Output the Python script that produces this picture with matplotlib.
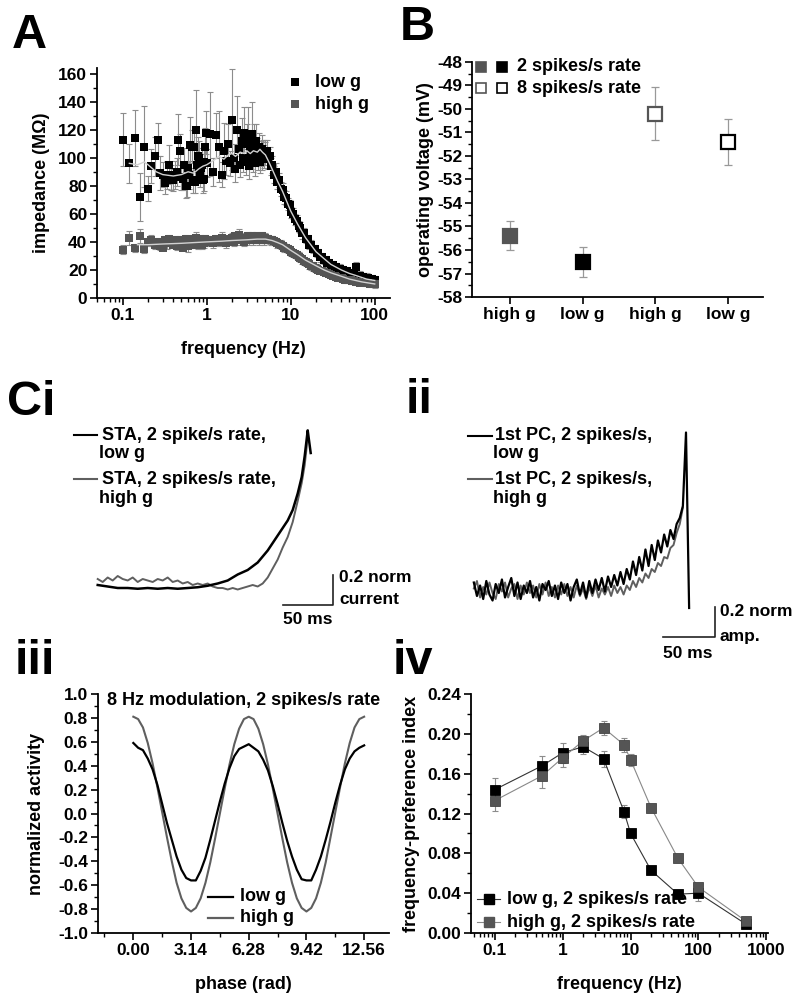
import numpy as np
import matplotlib
matplotlib.use('Agg')
import matplotlib.pyplot as plt
from matplotlib.ticker import (MultipleLocator, FixedLocator, NullFormatter,
                               LogLocator, FormatStrFormatter)

# ======================= DATA =======================
# ---- Panel A: impedance vs frequency ----
freq_lo = [0.10, 0.12, 0.14, 0.16, 0.18, 0.20, 0.22, 0.24, 0.26, 0.28,
           0.30, 0.32, 0.34, 0.36, 0.38, 0.40, 0.42, 0.44, 0.46, 0.48,
           0.50, 0.52, 0.54, 0.56, 0.58, 0.60, 0.62, 0.64, 0.66, 0.68,
           0.70, 0.72, 0.74, 0.76, 0.78, 0.80, 0.82, 0.84, 0.86, 0.88,
           0.90, 0.92, 0.94, 0.96, 0.98, 1.00]
freq_mid = [1.1, 1.2, 1.3, 1.4, 1.5, 1.6, 1.7, 1.8, 1.9, 2.0,
            2.1, 2.2, 2.3, 2.4, 2.5, 2.6, 2.7, 2.8, 2.9, 3.0,
            3.1, 3.2, 3.3, 3.4, 3.5, 3.6, 3.7, 3.8, 3.9, 4.0,
            4.1, 4.2, 4.3, 4.4, 4.5, 4.6, 4.7, 4.8, 4.9, 5.0]
freq_hi = [5.2, 5.4, 5.6, 5.8, 6.0, 6.3, 6.6, 6.9, 7.2, 7.6,
           8.0, 8.4, 8.8, 9.2, 9.7, 10.2, 10.7, 11.2, 11.8, 12.4,
           13.0, 13.7, 14.4, 15.1, 15.9, 16.7, 17.5, 18.4, 19.3, 20.3,
           21.3, 22.4, 23.5, 24.7, 26.0, 27.3, 28.7, 30.1, 31.6, 33.2,
           34.9, 36.6, 38.5, 40.4, 42.4, 44.6, 46.8, 49.1, 51.6, 54.2,
           56.9, 59.8, 62.8, 65.9, 69.2, 72.7, 76.3, 80.1, 84.1, 88.3,
           92.8, 97.4, 100.0]

low_lo = [113, 96, 114, 72, 108, 78, 94, 101, 113, 89,
          88, 82, 88, 95, 86, 84, 88, 90, 113, 105,
          86, 85, 95, 80, 80, 93, 88, 109, 108, 84,
          108, 83, 120, 95, 101, 92, 100, 88, 93, 95,
          84, 97, 85, 108, 118, 96]
low_lo_err = [19, 14, 20, 17, 29, 9, 12, 14, 12, 12,
              9, 8, 10, 14, 9, 8, 10, 10, 18, 12,
              9, 8, 12, 9, 8, 14, 10, 20, 12, 9,
              12, 8, 28, 12, 14, 10, 12, 9, 10, 12,
              9, 11, 9, 13, 15, 10]
low_mid = [117, 90, 116, 108, 88, 105, 98, 110, 96, 127,
           100, 92, 120, 106, 95, 112, 100, 118, 97, 110,
           114, 94, 108, 102, 117, 99, 110, 96, 112, 104,
           100, 108, 97, 103, 106, 99, 104, 101, 105, 103]
low_mid_err = [30, 10, 16, 25, 9, 20, 10, 14, 9, 36,
               10, 9, 24, 12, 9, 16, 10, 18, 9, 14,
               22, 9, 12, 10, 23, 9, 14, 9, 12, 10,
               9, 10, 8, 9, 10, 8, 9, 8, 8, 8]
low_hi = [105, 99, 101, 94, 95, 88, 90, 83, 84, 78,
          77, 72, 71, 67, 66, 61, 60, 56, 55, 51,
          50, 46, 46, 42, 42, 38, 38, 35, 35, 32,
          32, 29, 29, 27, 27, 25, 25, 23.5, 23.5, 22,
          22, 21, 21, 20, 20, 19, 19, 18, 18, 17,
          17, 22, 16, 16, 15, 15, 14.5, 14.5, 14, 13.5,
          13.5, 13, 13]
low_hi_err = [8, 7, 7, 6, 6, 6, 6, 5, 5, 5,
              5, 5, 5, 4, 4, 4, 4, 4, 4, 4,
              4, 4, 4, 3, 3, 3, 3, 3, 3, 3,
              3, 3, 3, 3, 3, 3, 3, 3, 3, 3,
              3, 3, 3, 3, 3, 3, 3, 3, 3, 3,
              3, 4, 3, 3, 3, 3, 3, 3, 3, 3,
              3, 3, 3]

high_lo = [34.5, 42.5, 35.5, 44, 35, 40, 41, 38, 40, 37,
           36, 41, 39, 42, 40, 38, 41, 37, 39, 41,
           38, 36, 40, 42, 39, 37, 41, 40, 38, 42,
           39, 41, 43, 40, 38, 41, 39, 42, 40, 38,
           41, 40, 39, 42, 40, 41]
high_lo_err = [3, 5, 3, 5, 3, 3, 4, 3, 3, 3,
               2, 3, 4, 3, 3, 2, 3, 3, 4, 3,
               3, 2, 3, 3, 3, 4, 3, 3, 2, 3,
               3, 3, 4, 3, 3, 3, 2, 3, 3, 3,
               3, 2, 3, 3, 3, 3]
high_mid = [41, 39, 42, 40, 43, 41, 39, 42, 41, 43,
            40, 44, 42, 45, 41, 43, 42, 40, 43, 42,
            44, 41, 43, 42, 44, 41, 43, 42, 44, 42,
            43, 41, 43, 42, 44, 42, 43, 41, 43, 42]
high_mid_err = [3, 3, 3, 3, 4, 3, 3, 3, 3, 3,
                3, 3, 3, 4, 3, 3, 3, 3, 3, 3,
                3, 3, 3, 3, 3, 3, 3, 3, 3, 3,
                3, 3, 3, 3, 3, 3, 3, 3, 3, 3]
high_hi = [42, 42, 41.5, 41, 41, 40.5, 40, 39, 38.5, 38,
           37, 36, 35.5, 35, 34, 33, 32, 31.5, 30.5, 29.5,
           28.5, 27.5, 26.5, 25.5, 25, 24, 23, 22.5, 21.5, 21,
           20, 19.5, 19, 18.5, 18, 17.5, 17, 16.5, 16, 15.5,
           15, 14.5, 14, 14, 13.5, 13, 13, 12.5, 12.5, 12,
           12, 11.5, 11.5, 11, 11, 11, 10.5, 10.5, 10.5, 10,
           10, 10, 10]
high_hi_err = [3, 3, 3, 3, 3, 3, 3, 3, 3, 3,
               3, 3, 3, 3, 3, 3, 3, 3, 3, 3,
               3, 3, 3, 3, 3, 3, 3, 3, 3, 3,
               2, 2, 2, 2, 2, 2, 2, 2, 2, 2,
               2, 2, 2, 2, 2, 2, 2, 2, 2, 2,
               2, 2, 2, 2, 2, 2, 2, 2, 2, 2,
               2, 2, 3]

# smoothed mean curves (light line inside the bands)
fit_low_f = [0.12, 0.15, 0.18, 0.2, 0.25, 0.3, 0.4, 0.5, 0.6, 0.7, 0.8, 0.9, 1.0,
             1.2, 1.4, 1.6, 1.8, 2.0, 2.2, 2.5, 2.8, 3.0, 3.3, 3.6, 4.0, 4.3, 4.6,
             5.0, 5.5, 6.0, 7.0, 8.0, 10, 12, 15, 20, 25, 30, 40, 50, 60, 80, 100]
fit_low_v = [96, 95, 97, 95, 90, 88, 87, 88, 90, 89, 92, 94, 95,
             98, 101, 99, 102, 103, 101, 104, 103, 105, 103, 105, 104, 106, 104,
             102, 97, 92, 83, 76, 62, 53, 43, 33, 28, 24, 20, 17.5, 16, 13.5, 12.5]
fit_high_f = [0.15, 0.2, 0.3, 0.5, 0.7, 1, 1.5, 2, 3, 4, 5, 6, 7, 8, 10, 12, 15,
              20, 25, 30, 40, 50, 70, 100]
fit_high_v = [38, 38, 38.5, 39, 39.5, 40, 40.5, 41, 41.5, 42, 42, 41, 39.5, 38, 34,
              31, 27, 23, 20, 18, 15.5, 13.5, 11.5, 10]

# ---- Panel B: operating voltage ----
b_labels = ['high g', 'low g', 'high g', 'low g']
b_values = [-55.4, -56.5, -50.2, -51.4]
b_errors = [0.62, 0.63, 1.14, 0.98]

# ---- Panel Ci: spike-triggered averages (time in ms, normalized current) ----
ci_time_low = [-210, -200, -190, -180, -170, -160, -150, -140, -130, -120,
               -110, -100, -90, -80, -70, -60, -50, -40, -30, -25,
               -20, -15, -10, -6, -3, 0, 1, 3]
ci_low = [0.0, -0.01, -0.02, -0.02, -0.025, -0.02, -0.025, -0.02, -0.025, -0.02,
          -0.015, -0.005, 0.01, 0.03, 0.07, 0.10, 0.15, 0.23, 0.33, 0.38,
          0.43, 0.50, 0.61, 0.72, 0.86, 1.03, 0.98, 0.88]
ci_time_high = [-210, -205, -200, -195, -190, -185, -180, -175, -170, -165,
                -160, -155, -150, -145, -140, -135, -130, -125, -120, -115,
                -110, -105, -100, -95, -90, -85, -80, -75, -70, -65,
                -60, -55, -50, -45, -40, -35, -30, -25, -20, -15,
                -10, -6, -3, -1, 0]
ci_high = [0.04, 0.02, 0.05, 0.03, 0.06, 0.04, 0.03, 0.05, 0.02, 0.04,
           0.03, 0.02, 0.04, 0.03, 0.05, 0.02, 0.03, 0.01, 0.02, 0.0,
           0.01, 0.0, 0.01, -0.01, -0.02, -0.02, -0.03, -0.02, -0.03, -0.02,
           -0.01, 0.0, -0.01, 0.01, 0.05, 0.11, 0.17, 0.25, 0.32, 0.42,
           0.56, 0.68, 0.80, 0.92, 1.03]

# ---- Panel ii: first principal components (time in ms, normalized amplitude) ----
pc_time_low = list(range(-204, 4, 3))
pc_low = [0.05, -0.04, 0.03, -0.06, 0.06, -0.03, -0.07, 0.04, -0.02, 0.07,
          -0.05, 0.02, 0.08, -0.04, 0.05, -0.06, 0.03, -0.02, 0.06, -0.05,
          0.02, -0.07, 0.04, 0.0, 0.06, -0.04, 0.03, -0.06, 0.05, -0.02,
          0.04, -0.07, 0.02, 0.07, -0.03, 0.05, -0.05, 0.06, -0.02, 0.07,
          0.0, 0.08, -0.01, 0.09, 0.02, 0.10, 0.03, 0.12, 0.04, 0.14,
          0.07, 0.19, 0.10, 0.22, 0.13, 0.27, 0.16, 0.30, 0.20, 0.33,
          0.25, 0.37, 0.29, 0.40, 0.34, 0.44, 0.48, 0.56, 1.05, -0.12]
pc_time_high = list(range(-204, -2, 3))
pc_high = [0.01, 0.06, -0.05, 0.02, -0.03, 0.05, -0.02, -0.06, 0.04, -0.01,
           0.05, -0.05, 0.01, 0.04, -0.06, 0.03, -0.03, 0.05, -0.02, 0.03,
           -0.05, 0.04, -0.03, 0.05, -0.04, 0.02, -0.05, 0.03, -0.03, 0.04,
           -0.04, 0.02, -0.05, 0.03, -0.04, 0.01, -0.06, 0.02, -0.04, 0.03,
           -0.05, 0.01, -0.03, 0.02, -0.04, 0.03, -0.02, 0.02, -0.03, 0.03,
           0.0, 0.06, 0.02, 0.08, 0.05, 0.11, 0.08, 0.14, 0.12, 0.18,
           0.16, 0.22, 0.21, 0.28, 0.30, 0.38, 0.44, 0.55]

# ---- Panel iii: phase response (phase sampled every 15 degrees) ----
phase_deg = list(range(0, 721, 15))
act_low = [0.59, 0.55, 0.53, 0.46, 0.37, 0.24, 0.08, -0.08, -0.22, -0.36,
           -0.47, -0.54, -0.56, -0.56, -0.48, -0.37, -0.22, -0.06, 0.10, 0.25,
           0.38, 0.48, 0.54, 0.56, 0.58,
           0.55, 0.52, 0.45, 0.36, 0.23, 0.08, -0.08, -0.23, -0.36, -0.47,
           -0.55, -0.56, -0.56, -0.47, -0.36, -0.22, -0.07, 0.09, 0.24, 0.37,
           0.46, 0.52, 0.55, 0.57]
act_high = [0.81, 0.79, 0.72, 0.59, 0.42, 0.22, 0.01, -0.20, -0.40, -0.58,
            -0.71, -0.79, -0.82, -0.79, -0.71, -0.58, -0.41, -0.21, 0.00, 0.21,
            0.41, 0.58, 0.71, 0.79, 0.81,
            0.79, 0.71, 0.58, 0.41, 0.21, 0.00, -0.21, -0.41, -0.58, -0.71,
            -0.79, -0.82, -0.79, -0.71, -0.58, -0.41, -0.20, 0.01, 0.22, 0.42,
            0.59, 0.72, 0.79, 0.81]
phase_ticks = [0.00, 3.14, 6.28, 9.42, 12.56]
phase_ticklabels = ['0.00', '3.14', '6.28', '9.42', '12.56']

# ---- Panel iv: frequency-preference index ----
fpi_freq = [0.1, 0.5, 1, 2, 4, 8, 10, 20, 50, 100, 500]
fpi_low = [0.144, 0.168, 0.181, 0.187, 0.175, 0.122, 0.100, 0.063, 0.039, 0.040, 0.009]
fpi_low_err = [0.012, 0.010, 0.010, 0.007, 0.008, 0.007, 0.004, 0.003, 0.003, 0.008, 0.003]
fpi_high = [0.133, 0.158, 0.176, 0.193, 0.206, 0.189, 0.174, 0.126, 0.075, 0.046, 0.012]
fpi_high_err = [0.010, 0.012, 0.009, 0.006, 0.007, 0.007, 0.006, 0.004, 0.003, 0.004, 0.003]

# ======================= STYLE =======================
plt.rcParams['font.family'] = ['Liberation Sans', 'DejaVu Sans']
plt.rcParams['font.weight'] = 'bold'
plt.rcParams['axes.labelweight'] = 'bold'
plt.rcParams['axes.unicode_minus'] = False

BLACK = '#000000'
GRAY = '#555555'
ERR = '#8c8c8c'
TICK = 12.5
LAB = 13

W, H = 800, 996
fig = plt.figure(figsize=(W / 100, H / 100), dpi=100)


def add_ax(x0, y0, x1, y1):
    return fig.add_axes([x0 / W, 1 - y1 / H, (x1 - x0) / W, (y1 - y0) / H])


def style(ax):
    for s in ['top', 'right']:
        ax.spines[s].set_visible(False)
    for s in ['left', 'bottom']:
        ax.spines[s].set_linewidth(1.3)
    ax.tick_params(which='major', direction='out', length=5, width=1.2,
                   labelsize=TICK, pad=2)
    ax.tick_params(which='minor', direction='out', length=3, width=1.0)


def letter(x, y, s):
    fig.text(x / W, 1 - y / H, s, fontsize=35, fontweight='bold', va='baseline', ha='left')


# ======================= PANEL A =======================
axA = add_ax(97, 68, 390, 298)
style(axA)
fA = freq_lo + freq_mid + freq_hi
lowA = low_lo + low_mid + low_hi
lowA_e = low_lo_err + low_mid_err + low_hi_err
highA = high_lo + high_mid + high_hi
highA_e = high_lo_err + high_mid_err + high_hi_err
axA.errorbar(fA, lowA, yerr=lowA_e, fmt='none', ecolor=ERR, elinewidth=0.8,
             capsize=2, capthick=0.8, zorder=2)
axA.plot(fA, lowA, 's', color=BLACK, ms=6, mew=0, zorder=3)
axA.errorbar(fA, highA, yerr=highA_e, fmt='none', ecolor=ERR, elinewidth=0.8,
             capsize=2, capthick=0.8, zorder=4)
axA.plot(fA, highA, 's', color=GRAY, ms=6, mew=0, zorder=5)
axA.plot(fit_low_f, fit_low_v, '-', color='#d2d2d2', lw=1.0, zorder=6)
axA.plot(fit_high_f, fit_high_v, '-', color='#d2d2d2', lw=1.0, zorder=6)
axA.set_xscale('log')
axA.set_xlim(0.0494, 152)
axA.set_ylim(0, 164)
axA.xaxis.set_major_locator(FixedLocator([0.1, 1, 10, 100]))
axA.set_xticklabels(['0.1', '1', '10', '100'])
axA.xaxis.set_minor_locator(LogLocator(base=10, subs=np.arange(2, 10)))
axA.xaxis.set_minor_formatter(NullFormatter())
axA.yaxis.set_major_locator(MultipleLocator(20))
axA.yaxis.set_minor_locator(MultipleLocator(10))
axA.set_xlabel('frequency (Hz)', fontsize=LAB, labelpad=13)
axA.set_ylabel('impedance (M\u03a9)', fontsize=LAB, labelpad=6)
# legend
axA.plot([0.676], [0.939], 's', color=BLACK, ms=5.5, mew=0, transform=axA.transAxes, clip_on=False)
axA.plot([0.676], [0.843], 's', color=GRAY, ms=5.5, mew=0, transform=axA.transAxes, clip_on=False)
axA.text(0.744, 0.939, 'low g', transform=axA.transAxes, fontsize=LAB, va='center')
axA.text(0.744, 0.843, 'high g', transform=axA.transAxes, fontsize=LAB, va='center')
letter(12, 48, 'A')

# ======================= PANEL B =======================
axB = add_ax(472, 62, 763, 297)
style(axB)
xb = [1, 2, 3, 4]
b_face = [GRAY, BLACK, 'white', 'white']
b_edge = [GRAY, BLACK, GRAY, BLACK]
for x, v, e, fc, ec in zip(xb, b_values, b_errors, b_face, b_edge):
    axB.errorbar([x], [v], yerr=[e], fmt='none', ecolor='#999999', elinewidth=0.9,
                 capsize=3, capthick=0.9, zorder=2)
    axB.plot([x], [v], 's', ms=9.5, mfc=fc, mec=ec, mew=1.6, zorder=3)
axB.set_xlim(0.48, 4.48)
axB.set_ylim(-58, -48)
axB.set_xticks(xb)
axB.set_xticklabels(b_labels)
axB.yaxis.set_major_locator(MultipleLocator(1))
axB.yaxis.set_minor_locator(MultipleLocator(0.5))
axB.yaxis.set_major_formatter(FormatStrFormatter('%d'))
axB.set_ylabel('operating voltage (mV)', fontsize=LAB, labelpad=2)
for fx, fy, fc, ec in [(0.031, 0.979, GRAY, GRAY), (0.103, 0.979, BLACK, BLACK),
                       (0.031, 0.889, 'white', GRAY), (0.103, 0.889, 'white', BLACK)]:
    axB.plot([fx], [fy], 's', ms=6.5, mfc=fc, mec=ec, mew=1.2,
             transform=axB.transAxes, clip_on=False)
axB.text(0.155, 0.979, '2 spikes/s rate', transform=axB.transAxes, fontsize=LAB, va='center')
axB.text(0.155, 0.889, '8 spikes/s rate', transform=axB.transAxes, fontsize=LAB, va='center')
letter(400, 40, 'B')

# ======================= PANEL Ci =======================
C_T0, C_Y0, C_S = 307.7, 585.0, 150.0
axC = add_ax(60, 415, 400, 640)
axC.axis('off')
axC.set_xlim(60 - C_T0, 400 - C_T0)
axC.set_ylim(-(640 - C_Y0) / C_S, (C_Y0 - 415) / C_S)
axC.plot(ci_time_high, ci_high, color='#5f5f5f', lw=1.4)
axC.plot(ci_time_low, ci_low, color=BLACK, lw=1.8)


def cx(x):
    return x - C_T0


def cy(y):
    return (C_Y0 - y) / C_S


axC.plot([cx(283), cx(333), cx(333)], [cy(605), cy(605), cy(575)], color='#222222', lw=1.2)
axC.text(cx(339), cy(577), '0.2 norm', fontsize=12.5, va='center', ha='left')
axC.text(cx(339), cy(600), 'current', fontsize=12.5, va='center', ha='left')
axC.text(cx(308), cy(620), '50 ms', fontsize=12.5, va='center', ha='center')
axC.plot([cx(74), cx(97)], [cy(435), cy(435)], color=BLACK, lw=1.5)
axC.plot([cx(74), cx(97)], [cy(479), cy(479)], color='#5f5f5f', lw=1.5)
axC.text(cx(102), cy(435), 'STA, 2 spike/s rate,', fontsize=LAB, va='center')
axC.text(cx(99), cy(453), 'low g', fontsize=LAB, va='center')
axC.text(cx(102), cy(479), 'STA, 2 spikes/s rate,', fontsize=LAB, va='center')
axC.text(cx(99), cy(498), 'high g', fontsize=LAB, va='center')
letter(7, 415, 'Ci')

# ======================= PANEL ii =======================
P_T0, P_Y0, P_SX, P_S = 686.0, 590.0, 1.04, 150.0
axP = add_ax(440, 415, 800, 665)
axP.axis('off')
axP.set_xlim((440 - P_T0) / P_SX, (800 - P_T0) / P_SX)
axP.set_ylim(-(665 - P_Y0) / P_S, (P_Y0 - 415) / P_S)
axP.plot(pc_time_high, pc_high, color='#5f5f5f', lw=1.4)
axP.plot(pc_time_low, pc_low, color=BLACK, lw=1.6)


def px_(x):
    return (x - P_T0) / P_SX


def py_(y):
    return (P_Y0 - y) / P_S


axP.plot([px_(663), px_(715), px_(715)], [py_(637), py_(637), py_(607)], color='#222222', lw=1.2)
axP.text(px_(720), py_(612), '0.2 norm', fontsize=12.5, va='center', ha='left')
axP.text(px_(720), py_(636), 'amp.', fontsize=12.5, va='center', ha='left')
axP.text(px_(688), py_(653), '50 ms', fontsize=12.5, va='center', ha='center')
axP.plot([px_(468), px_(492)], [py_(436), py_(436)], color=BLACK, lw=1.5)
axP.plot([px_(468), px_(492)], [py_(479), py_(479)], color='#5f5f5f', lw=1.5)
axP.text(px_(495), py_(436), '1st PC, 2 spikes/s,', fontsize=LAB, va='center')
axP.text(px_(493), py_(453), 'low g', fontsize=LAB, va='center')
axP.text(px_(495), py_(479), '1st PC, 2 spikes/s,', fontsize=LAB, va='center')
axP.text(px_(493), py_(498), 'high g', fontsize=LAB, va='center')
letter(406, 413, 'ii')

# ======================= PANEL iii =======================
ax3 = add_ax(97.7, 694, 389, 933)
style(ax3)
phase = np.radians(phase_deg)
ax3.plot(phase, act_high, color='#5f5f5f', lw=1.5)
ax3.plot(phase, act_low, color=BLACK, lw=1.6)
ax3.set_xlim(-1.94, 13.92)
ax3.set_ylim(-1.0, 1.0)
ax3.xaxis.set_major_locator(FixedLocator(phase_ticks))
ax3.set_xticklabels(phase_ticklabels)
ax3.xaxis.set_minor_locator(FixedLocator([-1.57, 1.57, 4.71, 7.85, 10.99]))
ax3.yaxis.set_major_locator(MultipleLocator(0.2))
ax3.yaxis.set_minor_locator(MultipleLocator(0.1))
ax3.yaxis.set_major_formatter(FormatStrFormatter('%.1f'))
ax3.set_xlabel('phase (rad)', fontsize=LAB, labelpad=13)
ax3.set_ylabel('normalized activity', fontsize=LAB, labelpad=9)
ax3.text(0.032, 0.971, '8 Hz modulation, 2 spikes/s rate', transform=ax3.transAxes,
         fontsize=LAB, va='center')
ax3.plot([0.379, 0.465], [0.151, 0.151], color=BLACK, lw=1.6, transform=ax3.transAxes)
ax3.plot([0.379, 0.465], [0.063, 0.063], color='#5f5f5f', lw=1.6, transform=ax3.transAxes)
ax3.text(0.489, 0.151, 'low g', transform=ax3.transAxes, fontsize=LAB, va='center')
ax3.text(0.489, 0.063, 'high g', transform=ax3.transAxes, fontsize=LAB, va='center')
letter(15, 674, 'iii')

# ======================= PANEL iv =======================
ax4 = add_ax(471, 694, 767.7, 933)
style(ax4)
ax4.errorbar(fpi_freq, fpi_low, yerr=fpi_low_err, fmt='none', ecolor=ERR,
             elinewidth=0.8, capsize=2, capthick=0.8, zorder=2)
ax4.errorbar(fpi_freq, fpi_high, yerr=fpi_high_err, fmt='none', ecolor=ERR,
             elinewidth=0.8, capsize=2, capthick=0.8, zorder=2)
ax4.plot(fpi_freq, fpi_low, '-', color='#333333', lw=0.8, zorder=3)
ax4.plot(fpi_freq, fpi_high, '-', color='#888888', lw=0.8, zorder=3)
ax4.plot(fpi_freq, fpi_low, 's', ms=6.5, mfc=BLACK, mec=BLACK, mew=0.6, zorder=4)
ax4.plot(fpi_freq, fpi_high, 's', ms=6.5, mfc=GRAY, mec='#444444', mew=0.6, zorder=5)
ax4.set_xscale('log')
ax4.set_xlim(0.0445, 1050)
ax4.set_ylim(0, 0.24)
ax4.xaxis.set_major_locator(FixedLocator([0.1, 1, 10, 100, 1000]))
ax4.set_xticklabels(['0.1', '1', '10', '100', '1000'])
ax4.xaxis.set_minor_locator(LogLocator(base=10, subs=np.arange(2, 10)))
ax4.xaxis.set_minor_formatter(NullFormatter())
ax4.yaxis.set_major_locator(MultipleLocator(0.04))
ax4.yaxis.set_minor_locator(MultipleLocator(0.02))
ax4.yaxis.set_major_formatter(FormatStrFormatter('%.2f'))
ax4.set_xlabel('frequency (Hz)', fontsize=LAB, labelpad=13)
ax4.set_ylabel('frequency-preference index', fontsize=LAB, labelpad=5)
for fy, lc, fc in [(0.142, '#333333', BLACK), (0.046, '#888888', GRAY)]:
    ax4.plot([0.020, 0.098], [fy, fy], color=lc, lw=0.8, transform=ax4.transAxes)
    ax4.plot([0.061], [fy], 's', ms=6.5, mfc=fc, mec=fc, transform=ax4.transAxes)
ax4.text(0.121, 0.142, 'low g, 2 spikes/s rate', transform=ax4.transAxes, fontsize=LAB, va='center')
ax4.text(0.121, 0.046, 'high g, 2 spikes/s rate', transform=ax4.transAxes, fontsize=LAB, va='center')
letter(393, 674, 'iv')

fig.savefig('out.png', dpi=100)
